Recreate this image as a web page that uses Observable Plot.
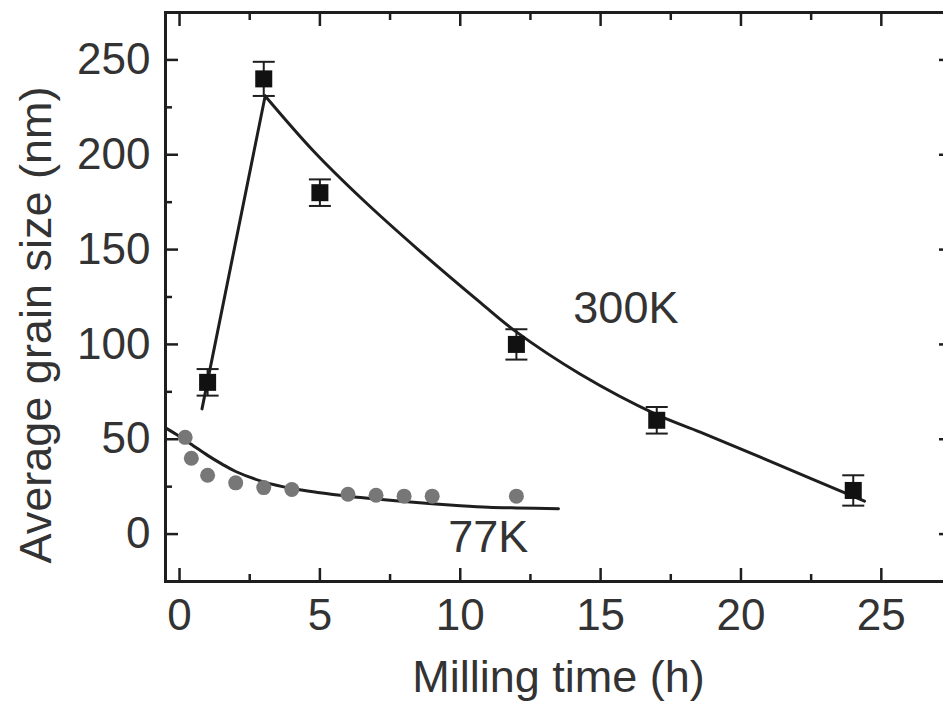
<!DOCTYPE html>
<html><head><meta charset="utf-8">
<script src="https://cdn.jsdelivr.net/npm/d3@7"></script>
<script src="https://cdn.jsdelivr.net/npm/@observablehq/plot@0.6"></script>
<style>
body{margin:0;background:#fff;overflow:hidden}
#chart svg{font-family:"Liberation Sans",Arial,sans-serif}
</style>
</head><body><div id="chart"></div>
<script>
// 300K measured points (square markers with error bars)
const time300 = [1, 3, 5, 12, 17, 24];
const size300 = [80, 240, 180, 100, 60, 23];
const err300  = [7, 9, 7, 8, 7, 8];
// 77K measured points (grey circles)
const time77 = [0.2, 0.42, 1, 2, 3, 4, 6, 7, 8, 9, 12];
const size77 = [51, 40, 31, 27, 24.5, 23.5, 21, 20.5, 20, 20, 20];
// fitted curves as drawn in the figure
const riseT  = [0.8, 3.05];
const riseY  = [66, 231];
const decayT = [3.05, 4.77, 6.55, 8.5, 10.72, 11.96, 14.28, 17, 18.55, 20.94, 24.4];
const decayY = [231, 202, 176, 150, 122, 107, 84.3, 63, 53.8, 39, 17.4];
const fit77T = [-0.5, 0, 0.5, 1, 1.5, 2, 3, 4, 5, 6, 7, 8, 9, 10, 11, 12, 13.5];
const fit77Y = [56, 51.5, 46.5, 41.5, 37, 33, 27.5, 24, 21.8, 20, 18.5, 17.2, 16, 15, 14.2, 13.8, 13.4];
// axes
const xMajor = [0, 5, 10, 15, 20, 25];
const xMinor = [2.5, 7.5, 12.5, 17.5, 22.5];
const yMajor = [0, 50, 100, 150, 200, 250];
const yMinor = [25, 75, 125, 175, 225];
const xTitle = "Milling time (h)";
const yTitle = "Average grain size (nm)";
// series annotations
const noteText = ["300K", "77K"];
const noteX = [15.9, 11];
const noteY = [118.7, -2.1];

const pts300 = time300.map((t, i) => ({t, s: size300[i], e: err300[i]}));
const pts77 = time77.map((t, i) => ({t, s: size77[i]}));
const rise = riseT.map((t, i) => ({t, s: riseY[i]}));
const decay = decayT.map((t, i) => ({t, s: decayY[i]}));
const fit77 = fit77T.map((t, i) => ({t, s: fit77Y[i]}));
const notes = noteText.map((text, i) => ({text, t: noteX[i], s: noteY[i]}));

const capSymbol = {draw(ctx, size) { const w = Math.sqrt(size / Math.PI); ctx.moveTo(-w, 0); ctx.lineTo(w, 0); }};
const ink = "#1e1e1e";
const txt = "#333";
const blank = () => "";

const tickAxes = [];
for (const a of ["bottom", "top"]) {
  tickAxes.push(Plot.axisX({anchor: a, ticks: xMajor, tickSize: -13, tickFormat: blank, label: null, stroke: ink, strokeWidth: 2.5}));
  tickAxes.push(Plot.axisX({anchor: a, ticks: xMinor, tickSize: -7, tickFormat: blank, label: null, stroke: ink, strokeWidth: 2.5}));
}
for (const a of ["left", "right"]) {
  tickAxes.push(Plot.axisY({anchor: a, ticks: yMajor, tickSize: -13, tickFormat: blank, label: null, stroke: ink, strokeWidth: 2.5}));
  tickAxes.push(Plot.axisY({anchor: a, ticks: yMinor, tickSize: -7, tickFormat: blank, label: null, stroke: ink, strokeWidth: 2.5}));
}

const chart = Plot.plot({
  width: 943, height: 719,
  marginLeft: 165, marginRight: -8, marginTop: 12, marginBottom: 138,
  x: {domain: [-0.5, 27.5]},
  y: {domain: [-25, 275]},
  style: {fontFamily: "'Liberation Sans', Arial, sans-serif", color: txt, background: "#fff"},
  marks: [
    ...tickAxes,
    Plot.axisX({anchor: "bottom", ticks: xMajor, tickSize: 0, tickPadding: 17, label: null, fontSize: 44, fill: txt}),
    Plot.axisY({anchor: "left", ticks: yMajor, tickSize: 0, tickPadding: 15, label: null, fontSize: 44, fill: txt}),
    Plot.frame({stroke: ink, strokeWidth: 3}),
    Plot.line(fit77, {x: "t", y: "s", curve: "catmull-rom", stroke: ink, strokeWidth: 3}),
    Plot.dot(pts77, {x: "t", y: "s", r: 7.5, fill: "#777"}),
    Plot.line(rise, {x: "t", y: "s", stroke: ink, strokeWidth: 3}),
    Plot.line(decay, {x: "t", y: "s", curve: "catmull-rom", stroke: ink, strokeWidth: 3}),
    Plot.ruleX(pts300, {x: "t", y1: d => d.s - d.e, y2: d => d.s + d.e, stroke: ink, strokeWidth: 2}),
    Plot.dot(pts300, {x: "t", y: d => d.s + d.e, symbol: capSymbol, r: 11, stroke: ink, strokeWidth: 2, fill: "none"}),
    Plot.dot(pts300, {x: "t", y: d => d.s - d.e, symbol: capSymbol, r: 11, stroke: ink, strokeWidth: 2, fill: "none"}),
    Plot.dot(pts300, {x: "t", y: "s", symbol: "square", r: 9.6, fill: "#111"}),
    Plot.text(notes, {x: "t", y: "s", text: "text", fontSize: 45, fill: txt}),
    Plot.text([xTitle], {frameAnchor: "bottom", dy: 110, text: d => d, fontSize: 45, fill: txt}),
    Plot.text([yTitle], {frameAnchor: "left", textAnchor: "middle", dx: -129, dy: 28, rotate: -90, text: d => d, fontSize: 45, fill: txt})
  ]
});
document.getElementById("chart").appendChild(chart);
</script>
</body></html>
